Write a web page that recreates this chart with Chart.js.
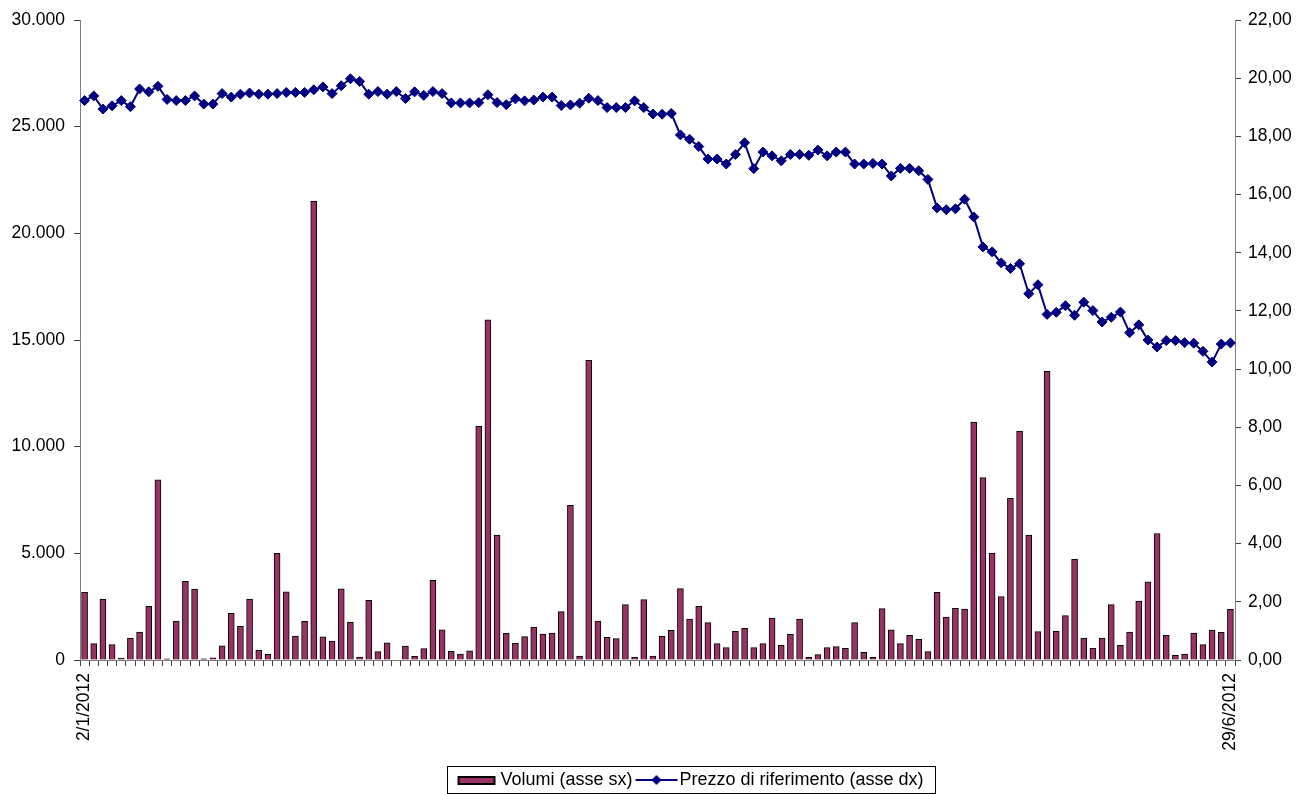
<!DOCTYPE html>
<html>
<head>
<meta charset="utf-8">
<title>Volumi e prezzo di riferimento</title>
<script src="https://cdn.jsdelivr.net/npm/chart.js@4.4.0/dist/chart.umd.min.js"></script>
<style>
  html, body { margin: 0; padding: 0; background: #ffffff; }
</style>
</head>
<body>
<canvas id="chart" width="1303" height="794"></canvas>
<script>
// Giorni di borsa (gen - giu 2012)
const categories = [
  '2/1/2012','3/1/2012','4/1/2012','5/1/2012','6/1/2012','9/1/2012','10/1/2012','11/1/2012','12/1/2012','13/1/2012','16/1/2012','17/1/2012','18/1/2012','19/1/2012','20/1/2012','23/1/2012','24/1/2012','25/1/2012','26/1/2012','27/1/2012','30/1/2012','31/1/2012',
  '1/2/2012','2/2/2012','3/2/2012','6/2/2012','7/2/2012','8/2/2012','9/2/2012','10/2/2012','13/2/2012','14/2/2012','15/2/2012','16/2/2012','17/2/2012','20/2/2012','21/2/2012','22/2/2012','23/2/2012','24/2/2012','27/2/2012','28/2/2012','29/2/2012',
  '1/3/2012','2/3/2012','5/3/2012','6/3/2012','7/3/2012','8/3/2012','9/3/2012','12/3/2012','13/3/2012','14/3/2012','15/3/2012','16/3/2012','19/3/2012','20/3/2012','21/3/2012','22/3/2012','23/3/2012','26/3/2012','27/3/2012','28/3/2012','29/3/2012','30/3/2012',
  '2/4/2012','3/4/2012','4/4/2012','5/4/2012','10/4/2012','11/4/2012','12/4/2012','13/4/2012','16/4/2012','17/4/2012','18/4/2012','19/4/2012','20/4/2012','23/4/2012','24/4/2012','26/4/2012','27/4/2012','30/4/2012',
  '2/5/2012','3/5/2012','4/5/2012','7/5/2012','8/5/2012','9/5/2012','10/5/2012','11/5/2012','14/5/2012','15/5/2012','16/5/2012','17/5/2012','18/5/2012','21/5/2012','22/5/2012','23/5/2012','24/5/2012','25/5/2012','28/5/2012','29/5/2012','30/5/2012','31/5/2012',
  '1/6/2012','4/6/2012','5/6/2012','6/6/2012','7/6/2012','8/6/2012','11/6/2012','12/6/2012','13/6/2012','14/6/2012','15/6/2012','18/6/2012','19/6/2012','20/6/2012','21/6/2012','22/6/2012','25/6/2012','26/6/2012','27/6/2012','28/6/2012','29/6/2012'
];

// Volumi (asse sx)
const volumi = [
  3170, 765, 2860, 720, 90, 1030, 1310, 2510, 8450, 50,
  1830, 3690, 3330, 60, 100, 670, 2190, 1580, 2860, 450,
  265, 5000, 3190, 1125, 1810, 21500, 1090, 890, 3340, 1780,
  140, 2800, 390, 810, 0, 655, 170, 530, 3735, 1420,
  405, 280, 435, 10950, 15950, 5850, 1250, 780, 1095, 1545,
  1220, 1265, 2265, 7250, 185, 14050, 1830, 1060, 1000, 2595,
  125, 2830, 185, 1110, 1390, 3345, 1920, 2515, 1750, 765,
  580, 1345, 1485, 580, 765, 1970, 690, 1200, 1920, 125,
  250, 580, 625, 545, 1750, 360, 125, 2405, 1420, 765,
  1155, 985, 390, 3170, 2015, 2420, 2390, 11150, 8550, 5000,
  2970, 7580, 10730, 5860, 1330, 13530, 1345, 2080, 4730, 1030,
  545, 1030, 2595, 690, 1310, 2765, 3670, 5930, 1155, 220,
  280, 1265, 720, 1405, 1295, 2375
];

// Prezzo di riferimento (asse dx)
const prezzo = [
  19.23, 19.39, 18.94, 19.05, 19.23, 19.02, 19.63, 19.53, 19.72, 19.27,
  19.23, 19.23, 19.39, 19.11, 19.11, 19.47, 19.35, 19.45, 19.49, 19.45,
  19.45, 19.47, 19.51, 19.51, 19.51, 19.60, 19.70, 19.47, 19.74, 19.98,
  19.89, 19.45, 19.54, 19.45, 19.54, 19.30, 19.53, 19.41, 19.54, 19.47,
  19.15, 19.15, 19.15, 19.16, 19.43, 19.16, 19.09, 19.29, 19.22, 19.25,
  19.35, 19.35, 19.06, 19.08, 19.14, 19.31, 19.23, 18.99, 18.99, 18.99,
  19.22, 18.99, 18.77, 18.76, 18.79, 18.05, 17.90, 17.65, 17.22, 17.22,
  17.05, 17.38, 17.78, 16.89, 17.46, 17.33, 17.16, 17.38, 17.38, 17.35,
  17.53, 17.33, 17.46, 17.46, 17.05, 17.05, 17.07, 17.05, 16.64, 16.90,
  16.90, 16.82, 16.52, 15.54, 15.48, 15.51, 15.84, 15.23, 14.20, 14.03,
  13.65, 13.46, 13.62, 12.59, 12.90, 11.88, 11.95, 12.18, 11.85, 12.30,
  12.01, 11.62, 11.78, 11.96, 11.25, 11.52, 11.00, 10.76, 10.98, 10.98,
  10.91, 10.89, 10.61, 10.24, 10.86, 10.90
];

const barFill = '#993366';
const lineColor = '#000080';

// Campioni della legenda disegnati a mano
function makeBarSwatch() {
  const c = document.createElement('canvas');
  c.width = 44; c.height = 14;
  const g = c.getContext('2d');
  g.fillStyle = barFill;
  g.fillRect(2, 3, 38, 9);
  g.strokeStyle = '#000';
  g.lineWidth = 2;
  g.strokeRect(3, 4, 36, 7);
  return c;
}

function makeLineSwatch() {
  const c = document.createElement('canvas');
  c.width = 46; c.height = 14;
  const g = c.getContext('2d');
  g.strokeStyle = lineColor;
  g.lineWidth = 2;
  g.beginPath(); g.moveTo(2, 7); g.lineTo(44, 7); g.stroke();
  g.fillStyle = lineColor;
  g.beginPath();
  g.moveTo(23, 2); g.lineTo(28, 7); g.lineTo(23, 12); g.lineTo(18, 7);
  g.closePath(); g.fill();
  return c;
}

// Cornice intorno alla legenda, spostata come nel grafico originale
const legendFrame = {
  id: 'legendFrame',
  afterLayout(chart) {
    const lg = chart.legend;
    lg.left += 42; lg.right += 42;
    lg.top += 5; lg.bottom += 5;
  },
  afterDraw(chart) {
    const boxes = chart.legend.legendHitBoxes;
    if (!boxes || !boxes.length) return;
    const first = boxes[0], last = boxes[boxes.length - 1];
    const ctx = chart.ctx;
    const x0 = Math.round(first.left - 16) + 0.5;
    const x1 = Math.round(last.left + last.width + 11) + 0.5;
    const y0 = Math.round(first.top - 5) + 0.5;
    const y1 = Math.round(first.top + first.height + 4) + 0.5;
    ctx.save();
    ctx.strokeStyle = '#000';
    ctx.lineWidth = 1;
    ctx.strokeRect(x0, y0, x1 - x0, y1 - y0);
    ctx.restore();
  }
};

function thousands(v) {
  return String(v).replace(/\B(?=(\d{3})+(?!\d))/g, '.');
}

Chart.defaults.font.family = "'Liberation Sans', Arial, sans-serif";
Chart.defaults.font.size = 17.5;
Chart.defaults.color = '#000';

const ctx = document.getElementById('chart').getContext('2d');
const chart = new Chart(ctx, {
  data: {
    labels: categories,
    datasets: [{
      type: 'bar',
      label: 'Volumi (asse sx)',
      data: volumi,
      yAxisID: 'y',
      backgroundColor: barFill,
      borderColor: '#000',
      borderWidth: 1,
      barThickness: 6,
      order: 2
    }, {
      type: 'line',
      label: 'Prezzo di riferimento (asse dx)',
      data: prezzo,
      yAxisID: 'y1',
      borderColor: lineColor,
      borderWidth: 2,
      pointStyle: 'rectRot',
      pointRadius: 5,
      pointBackgroundColor: lineColor,
      pointBorderColor: lineColor,
      pointBorderWidth: 1,
      tension: 0,
      order: 1
    }]
  },
  options: {
    responsive: false,
    animation: false,
    layout: { padding: { top: 20, left: 0, right: 0, bottom: 0 } },
    plugins: {
      tooltip: { enabled: false },
      legend: {
        position: 'bottom',
        labels: {
          usePointStyle: true,
          pointStyleWidth: 28,
          padding: 10,
          font: { size: 18 },
          generateLabels: function() {
            return [
              { text: 'Volumi (asse sx)', pointStyle: makeBarSwatch(), datasetIndex: 0, hidden: false, lineWidth: 0 },
              { text: 'Prezzo di riferimento (asse dx)', pointStyle: makeLineSwatch(), datasetIndex: 1, hidden: false, lineWidth: 0 }
            ];
          }
        }
      }
    },
    scales: {
      x: {
        type: 'category',
        offset: true,
        grid: { display: true, drawOnChartArea: false, offset: true, tickLength: 6, tickColor: '#404040' },
        border: { display: true, color: '#808080', width: 1 },
        ticks: {
          autoSkip: false,
          minRotation: 90,
          maxRotation: 90,
          padding: 7,
          callback: function(value, index) {
            return (index === 0 || index === categories.length - 1) ? categories[index] : '';
          }
        },
        afterFit: function(scale) { scale.height = 96; }
      },
      y: {
        position: 'left',
        min: 0,
        max: 30000,
        grid: { display: true, drawOnChartArea: false, tickLength: 6, tickColor: '#404040' },
        border: { display: true, color: '#808080', width: 1 },
        ticks: {
          stepSize: 5000,
          padding: 9,
          callback: function(value) { return thousands(value); }
        },
        afterFit: function(scale) { scale.width = 80; }
      },
      y1: {
        position: 'right',
        min: 0,
        max: 22,
        grid: { display: true, drawOnChartArea: false, tickLength: 6, tickColor: '#404040' },
        border: { display: true, color: '#808080', width: 1 },
        ticks: {
          stepSize: 2,
          padding: 7,
          callback: function(value) { return value.toFixed(2).replace('.', ','); }
        },
        afterFit: function(scale) { scale.width = 68; }
      }
    }
  },
  plugins: [legendFrame]
});
</script>
</body>
</html>
